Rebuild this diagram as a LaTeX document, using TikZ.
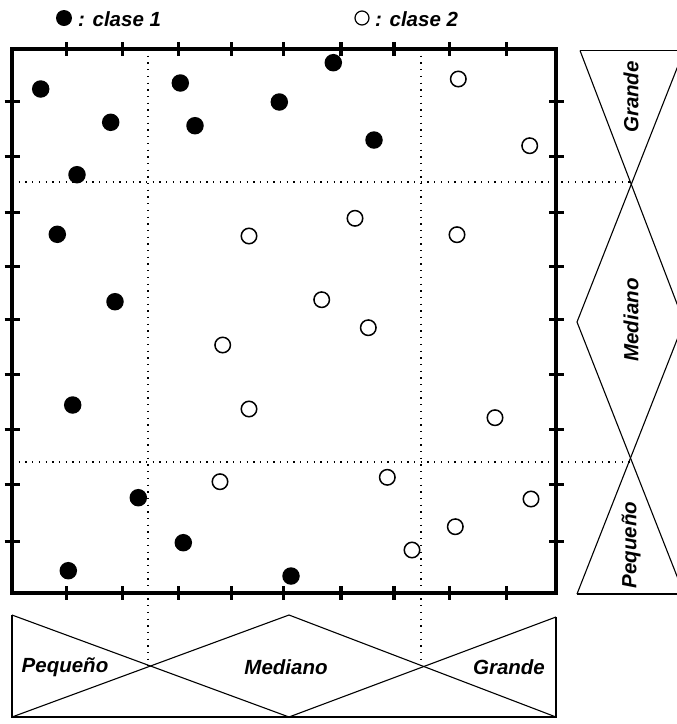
\documentclass[tikz,border=0pt]{standalone}
\usepackage{fontspec}
\setmainfont{Liberation Sans}
\begin{document}
\begin{tikzpicture}[x=1pt,y=-1pt,
  frame/.style={line width=3.5pt, line join=miter},
  tickmark/.style={line width=3.5pt},
  gridline/.style={line width=1.3pt, dash pattern=on 1.3pt off 5.4pt},
  mf/.style={line width=1.1pt, line join=miter},
  cone/.style={circle, fill=black, minimum size=17.5pt, inner sep=0pt},
  ctwo/.style={circle, draw=black, line width=1.5pt, fill=white, minimum size=15.5pt, inner sep=0pt},
  lbl/.style={font=\fontsize{20.5}{23}\selectfont\bfseries\itshape, inner sep=0pt}]
\useasboundingbox (0,0) rectangle (677,724);
\clip (0,0) rectangle (677,724);

% partition lines of the feature space
\draw[gridline] (148,49) -- (148,666);
\draw[gridline] (421,49) -- (421,666);
\draw[gridline] (12,182) -- (631,182);
\draw[gridline] (12,462) -- (631,462);

% frame of the feature space
\draw[frame] (12,49) rectangle (556,593);
\foreach \x in {66.7,122.5,178.5,231.7,283.7,340.8,394,449.6,506.7} {
  \draw[tickmark] (\x,42) -- (\x,56);
  \draw[tickmark] (\x,586) -- (\x,600);
}
\foreach \y in {101.5,156.5,212.5,266.7,319.5,374.5,429.3,484.7,541.5} {
  \draw[tickmark] (4.5,\y) -- (19.5,\y);
  \draw[tickmark] (549,\y) -- (564,\y);
}

% membership functions of the horizontal variable
\draw[mf] (12,615) -- (12,717) -- (556,717) -- (556,617);
\draw[mf] (12,615) -- (289,717);
\draw[mf] (12,717) -- (289,615) -- (556,717);
\draw[mf] (289,717) -- (556,617);
\node[lbl] (hp) at (65,667) {Pequeño};
\node[lbl] (hm) at (286,667) {Mediano};
\node[lbl] (hg) at (509,667) {Grande};

% membership functions of the vertical variable
\draw[mf] (580,50.5) -- (690,50.5);
\draw[mf] (577,594) -- (690,594);
\draw[mf] (580,50.5) -- (684,322);
\draw[mf] (684,50.5) -- (577,322) -- (684,594);
\draw[mf] (577,594) -- (684,322);
\node[lbl, rotate=90] (vg) at (631,97) {Grande};
\node[lbl, rotate=90] (vm) at (631,320) {Mediano};
\node[lbl, rotate=90] (vp) at (631,545) {Pequeño};

% legend
\node[cone, minimum size=16pt] (l1) at (64,18) {};
\node[lbl, anchor=west] (t1) at (78,19) {: clase 1};
\node[ctwo, minimum size=14pt, line width=1.2pt] (l2) at (362,18) {};
\node[lbl, anchor=west] (t2) at (375,19) {: clase 2};

% class 1 samples
\foreach \p/\q [count=\i] in {40.7/89, 110.7/122.3, 77/174.7, 180.3/83, 195/125.7,
  333.3/62.7, 279.3/102, 374/140, 57.3/234.3, 115/301.7, 72.7/405,
  138.3/497.7, 183.3/542.7, 68.3/570.7, 291/576}
  \node[cone] (a\i) at (\p,\q) {};

% class 2 samples
\foreach \p/\q [count=\i] in {458.3/79, 529.7/145.7, 355/218.3, 249/236, 321.7/299.7,
  368.3/327.7, 222.7/345, 457/234.7, 249/409, 220/481.7, 387.3/477.3,
  495/417.7, 531/499, 455.3/526.7, 412/550}
  \node[ctwo] (b\i) at (\p,\q) {};
\end{tikzpicture}
\end{document}
